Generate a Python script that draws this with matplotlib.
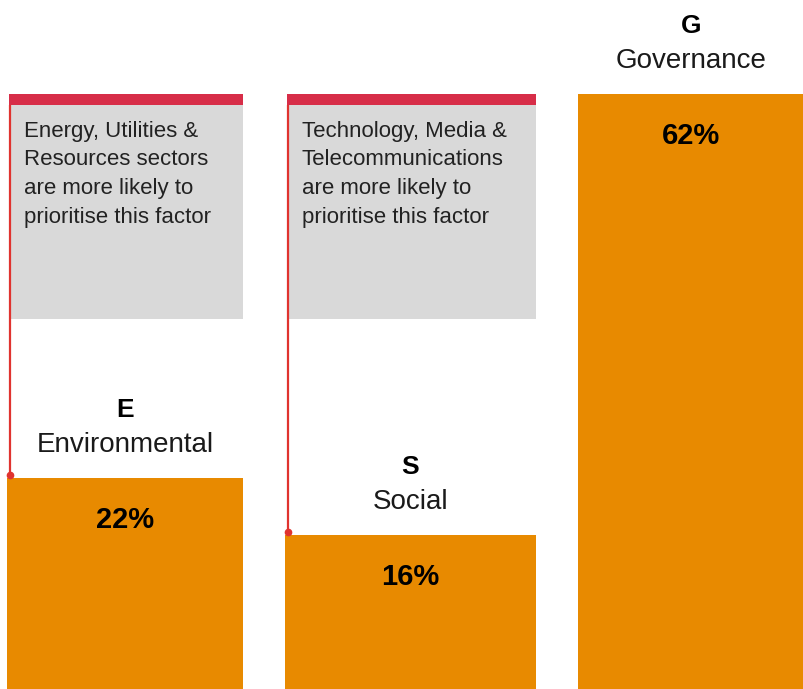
import matplotlib.pyplot as plt

letters = ['E', 'S', 'G']
names = ['Environmental', 'Social', 'Governance']
values = [22, 16, 62]
notes = ['Energy, Utilities &\nResources sectors\nare more likely to\nprioritise this factor',
         'Technology, Media &\nTelecommunications\nare more likely to\nprioritise this factor',
         None]

orange = '#E88A00'
red = '#D72D48'
grey = '#D9D9D9'

plt.rcParams['font.family'] = ['Liberation Sans', 'DejaVu Sans']

px = 9.6  # pixels per percentage point
fig = plt.figure(figsize=(8.04, 6.89), dpi=100)
ax = fig.add_axes([0, 0, 1, 1])
ax.set_xlim(0, 804)
ax.set_ylim(0, 689 / px)
ax.axis('off')

lefts = [7, 285, 578]
widths = [236, 251, 226]

ax.bar(lefts, values, width=widths, align='edge', color=orange, linewidth=0)

# grey callout boxes with red top strip
box_top = max(values)
box_bottom = box_top - 225 / px
strip = 11 / px
for i, note in enumerate(notes):
    if note is None:
        continue
    left = lefts[i] + 2
    w = widths[i] - 2
    ax.bar(left, box_top - box_bottom, bottom=box_bottom, width=w,
           align='edge', color=grey, linewidth=0)
    ax.bar(left, strip, bottom=box_top - strip, width=w,
           align='edge', color=red, linewidth=0)
    ax.plot([left + 1, left + 1], [box_top - strip, values[i] + 3 / px],
            color='#E0332F', lw=1.6, solid_capstyle='butt')
    ax.plot(left + 1, values[i] + 3 / px, 'o', color='#E0332F', ms=4.5)
    ax.annotate(note, (left, box_top - strip), xytext=(15, -16),
                textcoords='offset pixels', ha='left', va='top',
                fontsize=16, color='#222222', linespacing=1.48)

for i in range(3):
    cx = lefts[i] + widths[i] / 2
    ax.annotate(letters[i], (cx, values[i]), xytext=(0, 68),
                textcoords='offset pixels', ha='center', va='center',
                fontsize=19, fontweight='bold', color='black')
    ax.annotate(names[i], (cx, values[i]), xytext=(0, 33),
                textcoords='offset pixels', ha='center', va='center',
                fontsize=20, color='#1a1a1a')
    ax.annotate(f'{values[i]}%', (cx, values[i]), xytext=(0, -42),
                textcoords='offset pixels', ha='center', va='center',
                fontsize=21, fontweight='bold', color='black')

fig.savefig('out.png', dpi=100)
